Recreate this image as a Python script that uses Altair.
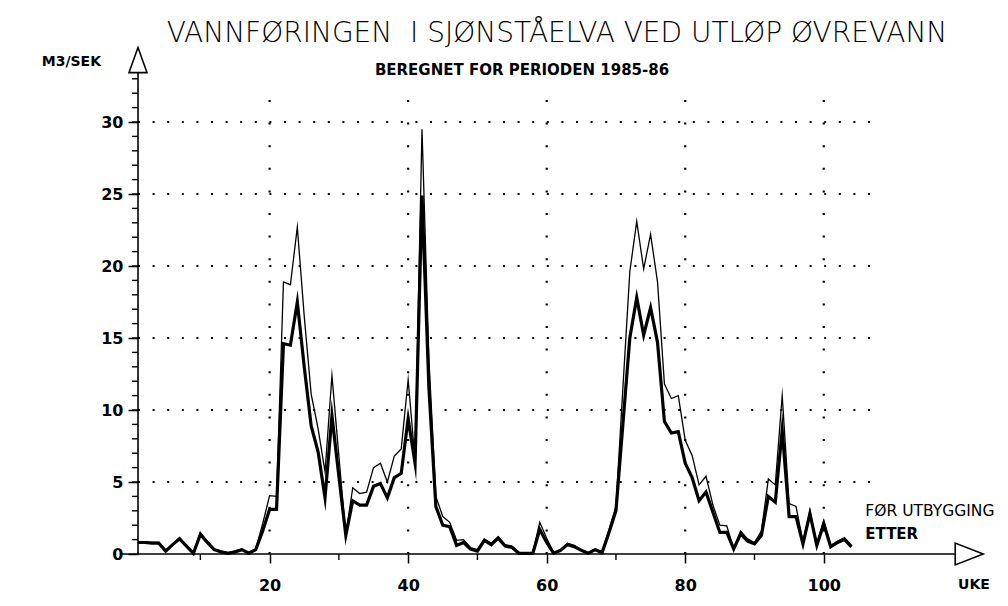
import altair as alt
import pandas as pd

# ---------------- data ----------------
weeks = list(range(1, 105))

for_utbygging = [
    0.85, 0.85, 0.8, 0.8, 0.25, 0.7, 1.15, 0.6, 0.1, 1.5,
    0.9, 0.35, 0.2, 0.1, 0.2, 0.35, 0.1, 0.35, 2.1, 4.05,
    4.0, 18.9, 18.7, 22.7, 16.5, 11.1, 8.7, 5.7, 12.4, 6.8,
    1.3, 4.6, 4.2, 4.3, 6.0, 6.3, 5.0, 6.8, 7.3, 12.1,
    6.5, 29.5, 13.5, 4.0, 2.6, 2.2, 0.95, 1.0, 0.45, 0.3,
    1.05, 0.75, 1.2, 0.65, 0.55, 0.1, 0.1, 0.1, 2.2, 1.1,
    0.1, 0.3, 0.75, 0.6, 0.3, 0.1, 0.35, 0.15, 1.7, 3.3,
    11.5, 19.6, 23.1, 19.8, 22.2, 18.9, 11.8, 10.8, 11.0, 7.9,
    6.85, 4.8, 5.4, 3.4, 2.0, 1.95, 0.35, 1.6, 1.05, 0.8,
    1.6, 5.2, 4.8, 11.0, 3.5, 3.3, 0.8, 3.0, 0.7, 2.3,
    0.6, 0.9, 1.15, 0.6,
]

etter = [
    0.8, 0.8, 0.75, 0.75, 0.2, 0.65, 1.05, 0.55, 0.05, 1.35,
    0.8, 0.3, 0.15, 0.05, 0.15, 0.3, 0.05, 0.3, 1.6, 3.1,
    3.1, 14.6, 14.5, 17.5, 13.0, 8.9, 7.1, 3.9, 9.6, 5.4,
    1.3, 3.7, 3.4, 3.4, 4.7, 4.9, 3.9, 5.3, 5.6, 9.4,
    6.3, 24.9, 11.5, 3.3, 2.0, 1.9, 0.6, 0.8, 0.35, 0.2,
    0.95, 0.65, 1.1, 0.55, 0.45, 0.05, 0.05, 0.05, 1.7, 0.8,
    0.05, 0.25, 0.65, 0.5, 0.25, 0.05, 0.3, 0.1, 1.5, 3.0,
    9.0, 15.0, 17.8, 15.2, 17.1, 14.7, 9.2, 8.4, 8.5, 6.3,
    5.3, 3.7, 4.3, 2.9, 1.5, 1.5, 0.35, 1.4, 0.9, 0.7,
    1.3, 4.0, 3.6, 8.6, 2.6, 2.6, 0.7, 2.8, 0.6, 2.1,
    0.5, 0.8, 1.0, 0.5,
]

series_names = ["FØR UTBYGGING", "ETTER"]

x_major_ticks = [20, 40, 60, 80, 100]
x_minor_ticks = [10, 30, 50, 70, 90]
y_major_ticks = [0, 5, 10, 15, 20, 25, 30]
y_minor_ticks = list(range(1, 34))
grid_y = [5, 10, 15, 20, 25, 30]
grid_x = [20, 40, 60, 80, 100]

title_text = "VANNFØRINGEN \u00a0I SJØNSTÅELVA VED UTLØP ØVREVANN"
subtitle_text = "BEREGNET FOR PERIODEN 1985-86"
y_unit_text = "M3/SEK"
x_unit_text = "UKE"

# ---------------- layout ----------------
W, H = 852, 504
FONT = "DejaVu Sans"
xscale = alt.Scale(domain=[1, 124], nice=False, zero=False)
yscale = alt.Scale(domain=[0, 35], nice=False, zero=True)

x_axis = alt.Axis(
    values=x_major_ticks, title=None, domain=False, grid=False,
    tickSize=9, tickWidth=1.5, tickColor="black",
    labelFont=FONT, labelFontSize=16, labelFontWeight="bold", labelColor="black",
    labelPadding=14)
y_axis = alt.Axis(
    values=y_major_ticks, title=None, domain=False, grid=False,
    tickSize=10, tickWidth=1.5, tickColor="black",
    labelFont=FONT, labelFontSize=16, labelFontWeight="bold", labelColor="black",
    labelPadding=5)


def X(field):
    return alt.X(field, type="quantitative", scale=xscale, axis=x_axis)


def Y(field):
    return alt.Y(field, type="quantitative", scale=yscale, axis=y_axis)


df = pd.DataFrame({
    "uke": weeks + weeks,
    "m3s": for_utbygging + etter,
    "serie": [series_names[0]] * len(weeks) + [series_names[1]] * len(weeks),
})

lines = alt.Chart(df).mark_line(color="black", strokeJoin="miter", strokeMiterLimit=30).encode(
    x=X("uke"),
    y=Y("m3s"),
    strokeWidth=alt.StrokeWidth("serie:N", scale=alt.Scale(domain=series_names, range=[1.3, 3.2]), legend=None),
    detail="serie:N",
)

# dotted grid
hgrid_df = pd.DataFrame({"uke": [1] * len(grid_y), "uke2": [108] * len(grid_y), "m3s": grid_y})
hgrid = alt.Chart(hgrid_df).mark_rule(color="black", strokeWidth=2.2, strokeDash=[2, 12.6]).encode(
    x=X("uke"), x2="uke2:Q", y=Y("m3s"),
)
vgrid_df = pd.DataFrame({"uke": grid_x, "m3s": [0] * len(grid_x), "m3s2": [31.6] * len(grid_x)})
vgrid = alt.Chart(vgrid_df).mark_rule(color="black", strokeWidth=2.2, strokeDash=[2, 20.6]).encode(
    x=X("uke"), y=Y("m3s"), y2="m3s2:Q",
)

# axis lines
axes_df = pd.DataFrame({"uke": [1, -1.4], "uke2": [1, 118.9], "m3s": [0, 0], "m3s2": [33.45, 0]})
axis_lines = alt.Chart(axes_df).mark_rule(color="black", strokeWidth=1.6).encode(
    x=X("uke"), x2="uke2:Q", y=Y("m3s"), y2="m3s2:Q",
)

# arrow heads
up_df = pd.DataFrame({"uke": [1], "m3s": [34.3]})
arrow_up = alt.Chart(up_df).mark_point(
    shape="M0,-1L-0.72,1L0.72,1Z", size=625, filled=False, color="black", strokeWidth=1.6, opacity=1
).encode(x=X("uke"), y=Y("m3s"))

right_df = pd.DataFrame({"uke": [121.0], "m3s": [0]})
arrow_right = alt.Chart(right_df).mark_point(
    shape="M1,0L-1,-0.78L-1,0.78Z", size=784, filled=False, color="black", strokeWidth=1.6, opacity=1
).encode(x=X("uke"), y=Y("m3s"))

# minor ticks
ymin_df = pd.DataFrame({"m3s": y_minor_ticks})
y_minor = alt.Chart(ymin_df).mark_rule(color="black", strokeWidth=1.4).encode(
    y=Y("m3s"), x=alt.value(0), x2=alt.value(-6),
)
xmin_df = pd.DataFrame({"uke": x_minor_ticks})
x_minor = alt.Chart(xmin_df).mark_rule(color="black", strokeWidth=1.4).encode(
    x=X("uke"), y=alt.value(H), y2=alt.value(H + 6),
)

# texts
one = pd.DataFrame({"a": [0]})
title = alt.Chart(one).mark_text(
    text=title_text, font=FONT, fontSize=28, fontWeight=200, color="black", align="center", baseline="alphabetic"
).encode(x=alt.value(419), y=alt.value(-8))
subtitle = alt.Chart(one).mark_text(
    text=subtitle_text, font=FONT, fontSize=15, fontWeight="bold", color="black", align="center", baseline="middle"
).encode(x=alt.value(384), y=alt.value(20))
yunit = alt.Chart(one).mark_text(
    text=y_unit_text, font=FONT, fontSize=14, fontWeight="bold", color="black", align="right", baseline="middle"
).encode(x=alt.value(-37), y=alt.value(12))
xunit = alt.Chart(one).mark_text(
    text=x_unit_text, font=FONT, fontSize=14, fontWeight="bold", color="black", align="center", baseline="middle"
).encode(x=alt.value(836), y=alt.value(535))

leg_for_df = pd.DataFrame({"uke": [106.0], "m3s": [3.0], "serie": [series_names[0]]})
leg_etter_df = pd.DataFrame({"uke": [106.0], "m3s": [1.4], "serie": [series_names[1]]})
legend_for = alt.Chart(leg_for_df).mark_text(
    font=FONT, fontSize=15.5, fontWeight="normal", color="black", align="left", baseline="middle"
).encode(x=X("uke"), y=Y("m3s"), text="serie:N")
legend_etter = alt.Chart(leg_etter_df).mark_text(
    font=FONT, fontSize=15, fontWeight="bold", color="black", align="left", baseline="middle"
).encode(x=X("uke"), y=Y("m3s"), text="serie:N")

chart = alt.layer(
    hgrid, vgrid, axis_lines, arrow_up, arrow_right, y_minor, x_minor, lines,
    title, subtitle, yunit, xunit, legend_for, legend_etter,
).properties(
    width=W, height=H,
    autosize=alt.AutoSizeParams(type="none"),
    padding={"left": 130, "top": 42, "right": 10, "bottom": 44},
    background="white",
).configure_view(stroke=None)

chart.save("out.html", embed_options={"renderer": "svg", "actions": False})
